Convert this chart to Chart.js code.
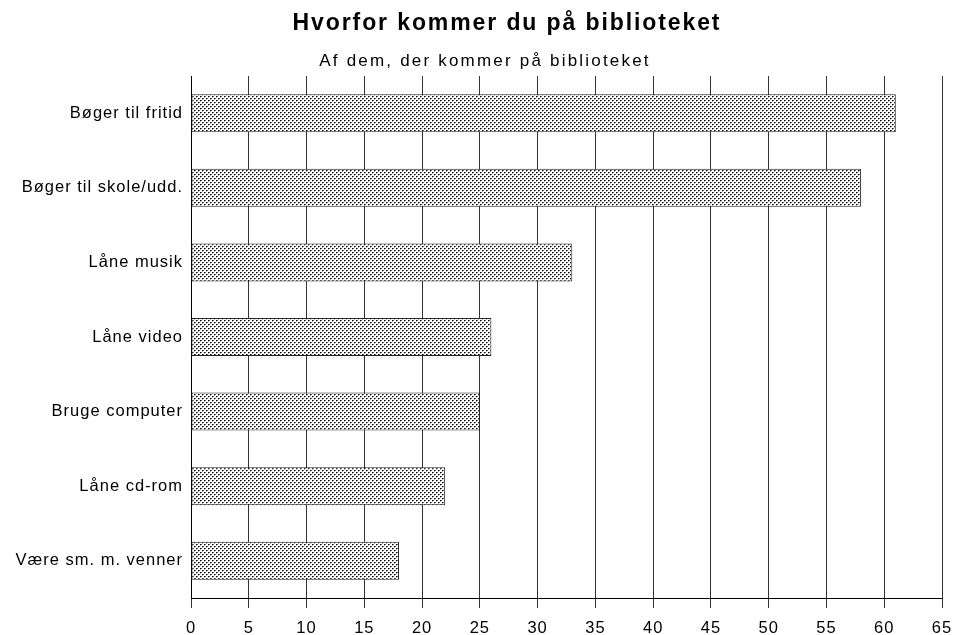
<!DOCTYPE html>
<html>
<head>
<meta charset="utf-8">
<script src="https://cdn.jsdelivr.net/npm/chart.js@4"></script>
<style>
  body { margin: 0; background: #fff; }
  #wrap { width: 954px; height: 635px; }
</style>
</head>
<body>
<div id="wrap"><canvas id="barChart" width="954" height="635"></canvas></div>
<script>
const labels = ["Bøger til fritid", "Bøger til skole/udd.", "Låne musik", "Låne video", "Bruge computer", "Låne cd-rom", "Være sm. m. venner"];
const values = [61, 58, 33, 26, 25, 22, 18];
const xMax = 65;
const xStep = 5;
const titleText = "Hvorfor kommer du på biblioteket";
const subtitleText = "Af dem, der kommer på biblioteket";

const fontFamily = "'Liberation Sans', Arial, sans-serif";

// small dotted fill like the old print pattern
const makePattern = () => {
    const c = document.createElement("canvas");
    c.width = 4;
    c.height = 4;
    const g = c.getContext("2d");
    g.fillStyle = "#fff";
    g.fillRect(0, 0, 4, 4);
    g.fillStyle = "#000";
    g.fillRect(0, 0, 1, 1);
    g.fillRect(2, 2, 1, 1);
    g.fillStyle = "#666";
    g.fillRect(1, 0, 1, 1);
    g.fillRect(3, 2, 1, 1);
    g.fillStyle = "#aaa";
    g.fillRect(0, 1, 1, 1);
    g.fillRect(2, 3, 1, 1);
    return g.createPattern(c, "repeat");
};

// the old chart's text is set quite wide
const spacingPlugin = {
    id: "spacing",
    beforeDraw(chart) {
        chart.ctx.letterSpacing = "1px";
    }
};

const headingPlugin = {
    id: "heading",
    afterDraw(chart) {
        const ctx = chart.ctx;
        ctx.save();
        ctx.fillStyle = "#000";
        ctx.textAlign = "center";
        ctx.textBaseline = "middle";
        ctx.letterSpacing = "1.9px";
        ctx.font = "bold 23px " + fontFamily;
        ctx.fillText(titleText, 507, 24);
        ctx.letterSpacing = "2.2px";
        ctx.font = "17px " + fontFamily;
        ctx.fillText(subtitleText, 485, 61);
        ctx.restore();
    }
};

const ctx = document.getElementById("barChart");

new Chart(ctx, {
    type: "bar",
    data: {
        labels,
        datasets: [{
            data: values,
            backgroundColor: makePattern(),
            borderColor: "#222",
            borderWidth: 1,
            borderSkipped: false,
            barPercentage: 0.51,
            categoryPercentage: 1
        }]
    },
    options: {
        indexAxis: "y",
        responsive: false,
        animation: false,
        devicePixelRatio: 1,
        layout: { padding: { top: 76, right: 12, left: 0, bottom: 0 } },
        plugins: {
            legend: { display: false },
            title: { display: false },
            tooltip: { enabled: false }
        },
        scales: {
            x: {
                min: 0,
                max: xMax,
                afterFit: (scale) => {
                    scale.height = 37;
                    scale.paddingLeft = 0;
                    scale.paddingRight = 0;
                },
                ticks: {
                    stepSize: xStep,
                    color: "#000",
                    padding: 11,
                    font: { family: fontFamily, size: 16.5 }
                },
                grid: { color: "#333", lineWidth: 1, tickLength: 10 },
                border: { color: "#000", width: 1 }
            },
            y: {
                afterFit: (scale) => { scale.width = 191; },
                ticks: {
                    color: "#000",
                    padding: 0,
                    font: { family: fontFamily, size: 16.5 }
                },
                grid: { display: false },
                border: { color: "#000", width: 1 }
            }
        }
    },
    plugins: [spacingPlugin, headingPlugin]
});
</script>
</body>
</html>
